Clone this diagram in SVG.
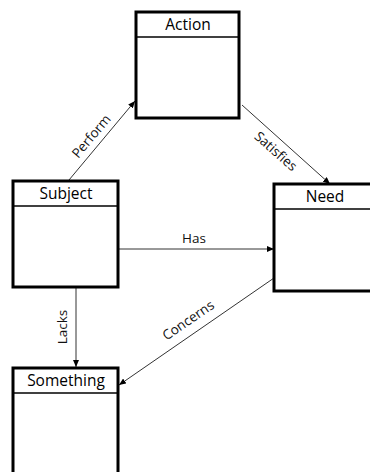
<svg xmlns="http://www.w3.org/2000/svg" width="370" height="472" viewBox="0 0 370 472">
<style>
.box{fill:#fff;stroke:#000;stroke-width:3}
.div{stroke:#000;stroke-width:1.5}
.title{font-family:"Open Sans","Liberation Sans",Arial,sans-serif;font-size:15.5px;fill:#000;text-anchor:middle}
.lbl{font-family:"Open Sans","Liberation Sans",Arial,sans-serif;font-size:13.5px;fill:#111;text-anchor:middle}
.edge{stroke:#333;stroke-width:1;fill:none;marker-end:url(#arr)}
</style>
<defs>
<marker id="arr" markerWidth="7" markerHeight="6" refX="7" refY="3" orient="auto" markerUnits="userSpaceOnUse">
<path d="M0,0 L7,3 L0,6 z" fill="#000"/>
</marker>
</defs>
<rect width="370" height="472" fill="#fff"/>
<g id="connectors">
<line class="edge" x1="69" y1="180" x2="135" y2="101"/>
<line class="edge" x1="242" y1="105" x2="330" y2="184"/>
<line class="edge" x1="119" y1="249" x2="274" y2="249"/>
<line class="edge" x1="76" y1="288" x2="76" y2="367"/>
<line class="edge" x1="274" y1="278" x2="119" y2="385"/>
<text class="lbl" transform="translate(91,136) rotate(-50)" y="5">Perform</text>
<text class="lbl" transform="translate(276,151) rotate(41.6)" y="5">Satisfies</text>
<text class="lbl" x="194" y="243">Has</text>
<text class="lbl" transform="translate(62,327) rotate(-90)" y="5">Lacks</text>
<text class="lbl" transform="translate(188,320) rotate(-34.4)" y="5">Concerns</text>
</g>
<g id="action">
<rect class="box" x="136" y="12" width="103" height="106"/>
<line class="div" x1="136" y1="37" x2="239" y2="37"/>
<text class="title" x="188" y="30">Action</text>
</g>
<g id="subject">
<rect class="box" x="13" y="181" width="105" height="106"/>
<line class="div" x1="13" y1="206" x2="118" y2="206"/>
<text class="title" x="66" y="199">Subject</text>
</g>
<g id="need">
<rect class="box" x="274" y="184" width="105" height="107"/>
<line class="div" x1="274" y1="209" x2="379" y2="209"/>
<text class="title" x="325" y="202">Need</text>
</g>
<g id="something">
<rect class="box" x="13" y="368" width="105" height="110"/>
<line class="div" x1="13" y1="393" x2="118" y2="393"/>
<text class="title" x="66" y="386">Something</text>
</g>
</svg>
